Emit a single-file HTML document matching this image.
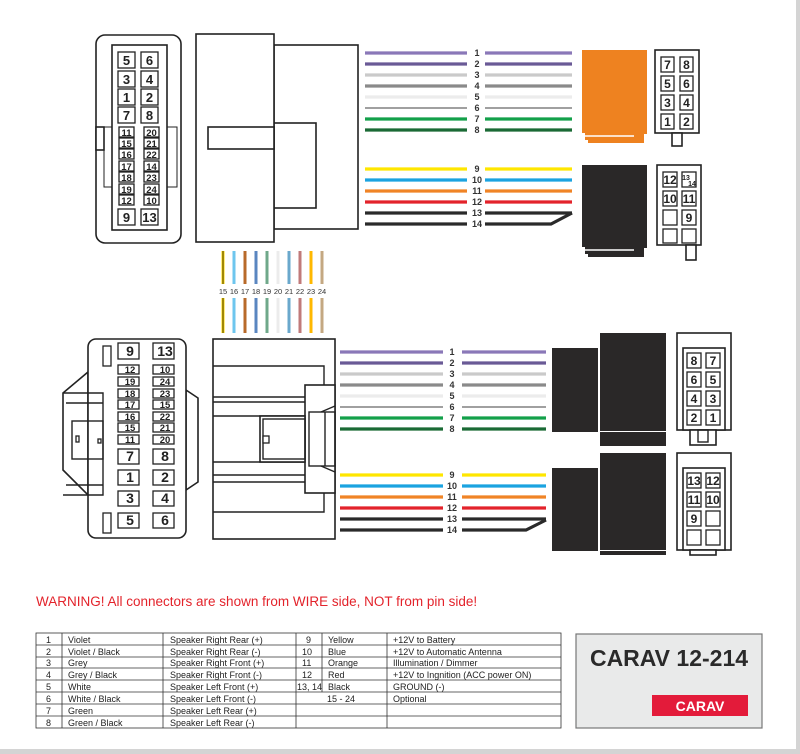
<!DOCTYPE html>
<html><head><meta charset="utf-8"><style>
html,body{margin:0;padding:0;background:#fff}
svg{display:block}
text{font-family:"Liberation Sans",Arial,sans-serif}
.p{fill:#fff;stroke:#222;stroke-width:1.3}
.n{font-weight:bold;fill:#222;text-anchor:middle}
.o{fill:#fff;stroke:#222;stroke-width:1.6}
.l{fill:none;stroke:#222;stroke-width:1.4}
.w{stroke-width:3.2}
.wl{font-size:9px;font-weight:bold;fill:#333;text-anchor:middle}
.t{font-size:9px;fill:#222}
</style></head><body>
<svg width="800" height="754" viewBox="0 0 800 754" xmlns="http://www.w3.org/2000/svg">
<rect x="0" y="0" width="800" height="754" fill="#fff"/>
<rect x="796" y="0" width="4" height="754" fill="#d4d4d4"/>
<rect x="0" y="749" width="800" height="5" fill="#d4d4d4"/>

<!-- TOP LEFT CONNECTOR -->
<rect class="o" x="96" y="35" width="85" height="208" rx="9"/>
<rect class="o" x="104" y="127" width="73" height="60" style="stroke-width:1"/>
<rect class="o" x="112" y="45" width="55" height="185"/>
<rect class="o" x="96" y="127" width="8" height="23"/>
<g font-size="13">
<rect class="p" x="118" y="52" width="17" height="16"/><text class="n" x="126.5" y="65">5</text>
<rect class="p" x="141" y="52" width="17" height="16"/><text class="n" x="149.5" y="65">6</text>
<rect class="p" x="118" y="71" width="17" height="16"/><text class="n" x="126.5" y="84">3</text>
<rect class="p" x="141" y="71" width="17" height="16"/><text class="n" x="149.5" y="84">4</text>
<rect class="p" x="118" y="89" width="17" height="16"/><text class="n" x="126.5" y="102">1</text>
<rect class="p" x="141" y="89" width="17" height="16"/><text class="n" x="149.5" y="102">2</text>
<rect class="p" x="118" y="107" width="17" height="16"/><text class="n" x="126.5" y="120">7</text>
<rect class="p" x="141" y="107" width="17" height="16"/><text class="n" x="149.5" y="120">8</text>
<rect class="p" x="118" y="209" width="17" height="16"/><text class="n" x="126.5" y="222">9</text>
<rect class="p" x="141" y="209" width="17" height="16"/><text class="n" x="149.5" y="222">13</text>
</g>
<g font-size="9.5">
<rect class="p" x="119" y="127" width="15" height="10"/><text class="n" x="126.5" y="136">11</text>
<rect class="p" x="144" y="127" width="15" height="10"/><text class="n" x="151.5" y="136">20</text>
<rect class="p" x="119" y="138" width="15" height="10"/><text class="n" x="126.5" y="147">15</text>
<rect class="p" x="144" y="138" width="15" height="10"/><text class="n" x="151.5" y="147">21</text>
<rect class="p" x="119" y="149" width="15" height="10"/><text class="n" x="126.5" y="158">16</text>
<rect class="p" x="144" y="149" width="15" height="10"/><text class="n" x="151.5" y="158">22</text>
<rect class="p" x="119" y="161" width="15" height="10"/><text class="n" x="126.5" y="170">17</text>
<rect class="p" x="144" y="161" width="15" height="10"/><text class="n" x="151.5" y="170">14</text>
<rect class="p" x="119" y="172" width="15" height="10"/><text class="n" x="126.5" y="181">18</text>
<rect class="p" x="144" y="172" width="15" height="10"/><text class="n" x="151.5" y="181">23</text>
<rect class="p" x="119" y="184" width="15" height="10"/><text class="n" x="126.5" y="193">19</text>
<rect class="p" x="144" y="184" width="15" height="10"/><text class="n" x="151.5" y="193">24</text>
<rect class="p" x="119" y="195" width="15" height="10"/><text class="n" x="126.5" y="204">12</text>
<rect class="p" x="144" y="195" width="15" height="10"/><text class="n" x="151.5" y="204">10</text>
</g>

<!-- TOP HOUSING -->
<rect class="o" x="274" y="45" width="84" height="184"/>
<rect class="o" x="274" y="123" width="42" height="85"/>
<rect class="o" x="196" y="34" width="78" height="208"/>
<rect class="o" x="208" y="127" width="66" height="22"/>

<!-- TOP WIRES -->
<g class="w">
<line x1="365" y1="53" x2="467" y2="53" stroke="#8a78b8"/><line x1="485" y1="53" x2="572" y2="53" stroke="#8a78b8"/>
<line x1="365" y1="64" x2="467" y2="64" stroke="#6a5a96"/><line x1="485" y1="64" x2="572" y2="64" stroke="#6a5a96"/>
<line x1="365" y1="75" x2="467" y2="75" stroke="#cacaca"/><line x1="485" y1="75" x2="572" y2="75" stroke="#cacaca"/>
<line x1="365" y1="86" x2="467" y2="86" stroke="#8a8a8a"/><line x1="485" y1="86" x2="572" y2="86" stroke="#8a8a8a"/>
<line x1="365" y1="97" x2="467" y2="97" stroke="#ececec"/><line x1="485" y1="97" x2="572" y2="97" stroke="#ececec"/>
<line x1="365" y1="108" x2="467" y2="108" stroke="#a0a0a0" stroke-width="2"/><line x1="485" y1="108" x2="572" y2="108" stroke="#a0a0a0" stroke-width="2"/>
<line x1="365" y1="119" x2="467" y2="119" stroke="#13a04a"/><line x1="485" y1="119" x2="572" y2="119" stroke="#13a04a"/>
<line x1="365" y1="130" x2="467" y2="130" stroke="#1a6a35"/><line x1="485" y1="130" x2="572" y2="130" stroke="#1a6a35"/>
<line x1="365" y1="169" x2="467" y2="169" stroke="#ffe600"/><line x1="485" y1="169" x2="572" y2="169" stroke="#ffe600"/>
<line x1="365" y1="180" x2="467" y2="180" stroke="#1ba3e0"/><line x1="485" y1="180" x2="572" y2="180" stroke="#1ba3e0"/>
<line x1="365" y1="191" x2="467" y2="191" stroke="#f08426"/><line x1="485" y1="191" x2="572" y2="191" stroke="#f08426"/>
<line x1="365" y1="202" x2="467" y2="202" stroke="#e3232b"/><line x1="485" y1="202" x2="572" y2="202" stroke="#e3232b"/>
<line x1="365" y1="213" x2="467" y2="213" stroke="#2a2a2a"/><line x1="485" y1="213" x2="572" y2="213" stroke="#2a2a2a"/>
<line x1="365" y1="224" x2="467" y2="224" stroke="#2a2a2a"/><polyline points="485,224 551,224 572,213" fill="none" stroke="#2a2a2a"/>
</g>
<g class="wl">
<text x="477" y="56">1</text><text x="477" y="67">2</text><text x="477" y="78">3</text><text x="477" y="89">4</text>
<text x="477" y="100">5</text><text x="477" y="111">6</text><text x="477" y="122">7</text><text x="477" y="133">8</text>
<text x="477" y="172">9</text><text x="477" y="183">10</text><text x="477" y="194">11</text><text x="477" y="205">12</text>
<text x="477" y="216">13</text><text x="477" y="227">14</text>
</g>

<!-- ORANGE / BLACK TOP CONNECTORS -->
<path d="M582,50 H647 V134 H644 V143 H588 V140 H585 V133 H582 Z" fill="#ee8220"/>
<line x1="585" y1="136" x2="634" y2="136" stroke="#fff" stroke-width="1.5"/>
<path d="M582,165 H647 V248 H644 V257 H588 V254 H585 V247 H582 Z" fill="#2a2828"/>
<line x1="585" y1="250" x2="634" y2="250" stroke="#fff" stroke-width="1.5"/>

<rect class="o" x="655" y="50" width="44" height="83"/>
<rect class="o" x="672" y="133" width="10" height="13"/>
<g font-size="12">
<rect class="p" x="661" y="57" width="13" height="15"/><text class="n" x="667.5" y="69">7</text>
<rect class="p" x="680" y="57" width="13" height="15"/><text class="n" x="686.5" y="69">8</text>
<rect class="p" x="661" y="76" width="13" height="15"/><text class="n" x="667.5" y="88">5</text>
<rect class="p" x="680" y="76" width="13" height="15"/><text class="n" x="686.5" y="88">6</text>
<rect class="p" x="661" y="95" width="13" height="15"/><text class="n" x="667.5" y="107">3</text>
<rect class="p" x="680" y="95" width="13" height="15"/><text class="n" x="686.5" y="107">4</text>
<rect class="p" x="661" y="114" width="13" height="15"/><text class="n" x="667.5" y="126">1</text>
<rect class="p" x="680" y="114" width="13" height="15"/><text class="n" x="686.5" y="126">2</text>
</g>
<rect class="o" x="657" y="165" width="44" height="80"/>
<rect class="o" x="686" y="245" width="10" height="15"/>
<g font-size="12">
<rect class="p" x="663" y="172" width="14" height="15"/><text class="n" x="670" y="184">12</text>
<rect class="p" x="682" y="172" width="14" height="15"/><text class="n" x="686" y="180" font-size="7">13</text><text class="n" x="692" y="186" font-size="7">14</text>
<rect class="p" x="663" y="191" width="14" height="15"/><text class="n" x="670" y="203">10</text>
<rect class="p" x="682" y="191" width="14" height="15"/><text class="n" x="689" y="203">11</text>
<rect class="p" x="663" y="210" width="14" height="15"/>
<rect class="p" x="682" y="210" width="14" height="15"/><text class="n" x="689" y="222">9</text>
<rect class="p" x="663" y="229" width="14" height="14"/>
<rect class="p" x="682" y="229" width="14" height="14"/>
</g>

<!-- VERTICAL WIRES 15-24 -->
<g stroke-width="3">
<line x1="223" y1="251" x2="223" y2="284" stroke="#ffd800"/><line x1="223" y1="298" x2="223" y2="333" stroke="#ffd800"/>
<line x1="223" y1="251" x2="223" y2="284" stroke="#111" stroke-width="0.8"/><line x1="223" y1="298" x2="223" y2="333" stroke="#111" stroke-width="0.8"/>
<line x1="234" y1="251" x2="234" y2="284" stroke="#6ec6ee"/><line x1="234" y1="298" x2="234" y2="333" stroke="#6ec6ee"/>
<line x1="245" y1="251" x2="245" y2="284" stroke="#b86a2a"/><line x1="245" y1="298" x2="245" y2="333" stroke="#b86a2a"/>
<line x1="256" y1="251" x2="256" y2="284" stroke="#5a86c0"/><line x1="256" y1="298" x2="256" y2="333" stroke="#5a86c0"/>
<line x1="267" y1="251" x2="267" y2="284" stroke="#6fa88a"/><line x1="267" y1="298" x2="267" y2="333" stroke="#6fa88a"/>
<line x1="278" y1="251" x2="278" y2="284" stroke="#ececec"/><line x1="278" y1="298" x2="278" y2="333" stroke="#ececec"/>
<line x1="289" y1="251" x2="289" y2="284" stroke="#6aa8cc"/><line x1="289" y1="298" x2="289" y2="333" stroke="#6aa8cc"/>
<line x1="300" y1="251" x2="300" y2="284" stroke="#c07a7a"/><line x1="300" y1="298" x2="300" y2="333" stroke="#c07a7a"/>
<line x1="311" y1="251" x2="311" y2="284" stroke="#ffb800"/><line x1="311" y1="298" x2="311" y2="333" stroke="#ffb800"/>
<line x1="322" y1="251" x2="322" y2="284" stroke="#c4a882"/><line x1="322" y1="298" x2="322" y2="333" stroke="#c4a882"/>
</g>
<g font-size="7.5" fill="#333" text-anchor="middle">
<text x="223" y="294">15</text><text x="234" y="294">16</text><text x="245" y="294">17</text><text x="256" y="294">18</text><text x="267" y="294">19</text>
<text x="278" y="294">20</text><text x="289" y="294">21</text><text x="300" y="294">22</text><text x="311" y="294">23</text><text x="322" y="294">24</text>
</g>

<!-- BOTTOM LEFT CONNECTOR -->
<path class="o" d="M63,393 L88,372 V495 L63,470 Z"/>
<path class="o" d="M186,390 L198,398 V482 L186,490 Z"/>
<rect class="o" x="88" y="339" width="98" height="199" rx="8"/>
<path class="l" d="M63,393 H103 V495 H63 M66,403 H103 M66,485 H103"/>
<rect class="l" x="72" y="421" width="31" height="38"/>
<rect class="p" x="76" y="436" width="3" height="6"/>
<rect class="p" x="98" y="439" width="3" height="4"/>
<rect class="p" x="103" y="346" width="8" height="20"/>
<rect class="p" x="103" y="513" width="8" height="20"/>
<g font-size="14">
<rect class="p" x="118" y="343" width="21" height="16"/><text class="n" x="130" y="356">9</text>
<rect class="p" x="153" y="343" width="21" height="16"/><text class="n" x="165" y="356">13</text>
<rect class="p" x="118" y="449" width="21" height="15"/><text class="n" x="130" y="461">7</text>
<rect class="p" x="153" y="449" width="21" height="15"/><text class="n" x="165" y="461">8</text>
<rect class="p" x="118" y="470" width="21" height="15"/><text class="n" x="130" y="482">1</text>
<rect class="p" x="153" y="470" width="21" height="15"/><text class="n" x="165" y="482">2</text>
<rect class="p" x="118" y="491" width="21" height="15"/><text class="n" x="130" y="503">3</text>
<rect class="p" x="153" y="491" width="21" height="15"/><text class="n" x="165" y="503">4</text>
<rect class="p" x="118" y="513" width="21" height="15"/><text class="n" x="130" y="525">5</text>
<rect class="p" x="153" y="513" width="21" height="15"/><text class="n" x="165" y="525">6</text>
</g>
<g font-size="9.5">
<rect class="p" x="118" y="365" width="21" height="9"/><text class="n" x="130" y="373">12</text>
<rect class="p" x="153" y="365" width="21" height="9"/><text class="n" x="165" y="373">10</text>
<rect class="p" x="118" y="377" width="21" height="9"/><text class="n" x="130" y="385">19</text>
<rect class="p" x="153" y="377" width="21" height="9"/><text class="n" x="165" y="385">24</text>
<rect class="p" x="118" y="389" width="21" height="9"/><text class="n" x="130" y="397">18</text>
<rect class="p" x="153" y="389" width="21" height="9"/><text class="n" x="165" y="397">23</text>
<rect class="p" x="118" y="400" width="21" height="9"/><text class="n" x="130" y="408">17</text>
<rect class="p" x="153" y="400" width="21" height="9"/><text class="n" x="165" y="408">15</text>
<rect class="p" x="118" y="412" width="21" height="9"/><text class="n" x="130" y="420">16</text>
<rect class="p" x="153" y="412" width="21" height="9"/><text class="n" x="165" y="420">22</text>
<rect class="p" x="118" y="423" width="21" height="9"/><text class="n" x="130" y="431">15</text>
<rect class="p" x="153" y="423" width="21" height="9"/><text class="n" x="165" y="431">21</text>
<rect class="p" x="118" y="435" width="21" height="9"/><text class="n" x="130" y="443">11</text>
<rect class="p" x="153" y="435" width="21" height="9"/><text class="n" x="165" y="443">20</text>
</g>

<!-- BOTTOM HOUSING -->
<rect class="o" x="213" y="339" width="122" height="200"/>
<path class="l" d="M213,366 H324 V386 M324,492 V512 H213 M213,397 H305 M213,402 H305 M213,416 H305 M213,462 H305 M213,475 H305 M213,482 H305"/>
<rect class="o" x="305" y="385" width="30" height="108"/>
<rect class="l" x="309" y="412" width="26" height="54"/>
<line class="l" x1="325" y1="412" x2="325" y2="466"/>
<path class="l" d="M321,412 L335,406 M321,466 L335,472"/>
<rect class="o" x="260" y="416" width="45" height="46"/>
<rect class="l" x="263" y="419" width="42" height="40"/>
<rect class="p" x="263" y="436" width="6" height="7"/>

<!-- BOTTOM WIRES -->
<g class="w">
<line x1="340" y1="352" x2="443" y2="352" stroke="#8a78b8"/><line x1="462" y1="352" x2="546" y2="352" stroke="#8a78b8"/>
<line x1="340" y1="363" x2="443" y2="363" stroke="#6a5a96"/><line x1="462" y1="363" x2="546" y2="363" stroke="#6a5a96"/>
<line x1="340" y1="374" x2="443" y2="374" stroke="#cacaca"/><line x1="462" y1="374" x2="546" y2="374" stroke="#cacaca"/>
<line x1="340" y1="385" x2="443" y2="385" stroke="#8a8a8a"/><line x1="462" y1="385" x2="546" y2="385" stroke="#8a8a8a"/>
<line x1="340" y1="396" x2="443" y2="396" stroke="#ececec"/><line x1="462" y1="396" x2="546" y2="396" stroke="#ececec"/>
<line x1="340" y1="407" x2="443" y2="407" stroke="#a0a0a0" stroke-width="2"/><line x1="462" y1="407" x2="546" y2="407" stroke="#a0a0a0" stroke-width="2"/>
<line x1="340" y1="418" x2="443" y2="418" stroke="#13a04a"/><line x1="462" y1="418" x2="546" y2="418" stroke="#13a04a"/>
<line x1="340" y1="429" x2="443" y2="429" stroke="#1a6a35"/><line x1="462" y1="429" x2="546" y2="429" stroke="#1a6a35"/>
<line x1="340" y1="475" x2="443" y2="475" stroke="#ffe600"/><line x1="462" y1="475" x2="546" y2="475" stroke="#ffe600"/>
<line x1="340" y1="486" x2="443" y2="486" stroke="#1ba3e0"/><line x1="462" y1="486" x2="546" y2="486" stroke="#1ba3e0"/>
<line x1="340" y1="497" x2="443" y2="497" stroke="#f08426"/><line x1="462" y1="497" x2="546" y2="497" stroke="#f08426"/>
<line x1="340" y1="508" x2="443" y2="508" stroke="#e3232b"/><line x1="462" y1="508" x2="546" y2="508" stroke="#e3232b"/>
<line x1="340" y1="519" x2="443" y2="519" stroke="#2a2a2a"/><line x1="462" y1="519" x2="546" y2="519" stroke="#2a2a2a"/>
<line x1="340" y1="530" x2="443" y2="530" stroke="#2a2a2a"/><polyline points="462,530 526,530 546,520" fill="none" stroke="#2a2a2a"/>
</g>
<g class="wl">
<text x="452" y="355">1</text><text x="452" y="366">2</text><text x="452" y="377">3</text><text x="452" y="388">4</text>
<text x="452" y="399">5</text><text x="452" y="410">6</text><text x="452" y="421">7</text><text x="452" y="432">8</text>
<text x="452" y="478">9</text><text x="452" y="489">10</text><text x="452" y="500">11</text><text x="452" y="511">12</text>
<text x="452" y="522">13</text><text x="452" y="533">14</text>
</g>

<!-- BOTTOM BLACK CONNECTORS -->
<rect x="552" y="348" width="46" height="84" fill="#2a2828"/>
<rect x="600" y="333" width="66" height="98" fill="#2a2828"/>
<rect x="600" y="432" width="66" height="14" fill="#2a2828"/>
<rect x="552" y="468" width="46" height="83" fill="#2a2828"/>
<rect x="600" y="453" width="66" height="97" fill="#2a2828"/>
<rect x="600" y="551" width="66" height="4" fill="#2a2828"/>

<rect class="o" x="677" y="333" width="54" height="97"/>
<rect class="o" x="683" y="348" width="42" height="82"/>
<rect class="o" x="690" y="430" width="26" height="15"/>
<rect class="l" x="698" y="430" width="10" height="12"/>
<g font-size="12">
<rect class="p" x="687" y="353" width="14" height="15"/><text class="n" x="694" y="365">8</text>
<rect class="p" x="706" y="353" width="14" height="15"/><text class="n" x="713" y="365">7</text>
<rect class="p" x="687" y="372" width="14" height="15"/><text class="n" x="694" y="384">6</text>
<rect class="p" x="706" y="372" width="14" height="15"/><text class="n" x="713" y="384">5</text>
<rect class="p" x="687" y="391" width="14" height="15"/><text class="n" x="694" y="403">4</text>
<rect class="p" x="706" y="391" width="14" height="15"/><text class="n" x="713" y="403">3</text>
<rect class="p" x="687" y="410" width="14" height="15"/><text class="n" x="694" y="422">2</text>
<rect class="p" x="706" y="410" width="14" height="15"/><text class="n" x="713" y="422">1</text>
</g>
<rect class="o" x="677" y="453" width="54" height="97"/>
<rect class="o" x="683" y="468" width="42" height="82"/>
<rect class="o" x="690" y="550" width="26" height="5"/>
<g font-size="12">
<rect class="p" x="687" y="473" width="14" height="15"/><text class="n" x="694" y="485">13</text>
<rect class="p" x="706" y="473" width="14" height="15"/><text class="n" x="713" y="485">12</text>
<rect class="p" x="687" y="492" width="14" height="15"/><text class="n" x="694" y="504">11</text>
<rect class="p" x="706" y="492" width="14" height="15"/><text class="n" x="713" y="504">10</text>
<rect class="p" x="687" y="511" width="14" height="15"/><text class="n" x="694" y="523">9</text>
<rect class="p" x="706" y="511" width="14" height="15"/>
<rect class="p" x="687" y="530" width="14" height="15"/>
<rect class="p" x="706" y="530" width="14" height="15"/>
</g>

<!-- WARNING -->
<text x="36" y="606" font-size="13.5" fill="#e3232b">WARNING! All connectors are shown from WIRE side, NOT from pin side!</text>

<!-- TABLE -->
<g stroke="#333" stroke-width="0.8" fill="none">
<rect x="36" y="633" width="525" height="95"/>
<path d="M36,645 H561 M36,657 H561 M36,668 H561 M36,680 H561 M36,692 H561 M36,704 H561 M36,716 H561"/>
<path d="M62,633 V728 M163,633 V728 M296,633 V728 M322,633 V692 M387,633 V728"/>
</g>
<g class="t">
<text x="46" y="643">1</text><text x="68" y="643">Violet</text><text x="170" y="643">Speaker Right Rear (+)</text><text x="306" y="643">9</text><text x="328" y="643">Yellow</text><text x="393" y="643">+12V to Battery</text>
<text x="46" y="655">2</text><text x="68" y="655">Violet / Black</text><text x="170" y="655">Speaker Right Rear (-)</text><text x="302" y="655">10</text><text x="328" y="655">Blue</text><text x="393" y="655">+12V to Automatic Antenna</text>
<text x="46" y="666">3</text><text x="68" y="666">Grey</text><text x="170" y="666">Speaker Right Front (+)</text><text x="302" y="666">11</text><text x="328" y="666">Orange</text><text x="393" y="666">Illumination / Dimmer</text>
<text x="46" y="678">4</text><text x="68" y="678">Grey / Black</text><text x="170" y="678">Speaker Right Front (-)</text><text x="302" y="678">12</text><text x="328" y="678">Red</text><text x="393" y="678">+12V to Ingnition (ACC power ON)</text>
<text x="46" y="690">5</text><text x="68" y="690">White</text><text x="170" y="690">Speaker Left Front (+)</text><text x="297" y="690">13, 14</text><text x="328" y="690">Black</text><text x="393" y="690">GROUND (-)</text>
<text x="46" y="702">6</text><text x="68" y="702">White / Black</text><text x="170" y="702">Speaker Left Front (-)</text><text x="327" y="702">15 - 24</text><text x="393" y="702">Optional</text>
<text x="46" y="714">7</text><text x="68" y="714">Green</text><text x="170" y="714">Speaker Left Rear (+)</text>
<text x="46" y="726">8</text><text x="68" y="726">Green / Black</text><text x="170" y="726">Speaker Left Rear (-)</text>
</g>

<!-- CARAV BOX -->
<rect x="576" y="634" width="186" height="94" fill="#e9eaea" stroke="#777" stroke-width="1.2"/>
<text x="669" y="666" font-size="23" font-weight="bold" fill="#2a2a2a" text-anchor="middle">CARAV 12-214</text>
<rect x="652" y="695" width="96" height="21" fill="#e31b3a"/>
<text x="700" y="711" font-size="14" font-weight="bold" fill="#fff" text-anchor="middle">CARAV</text>
</svg>
</body></html>
